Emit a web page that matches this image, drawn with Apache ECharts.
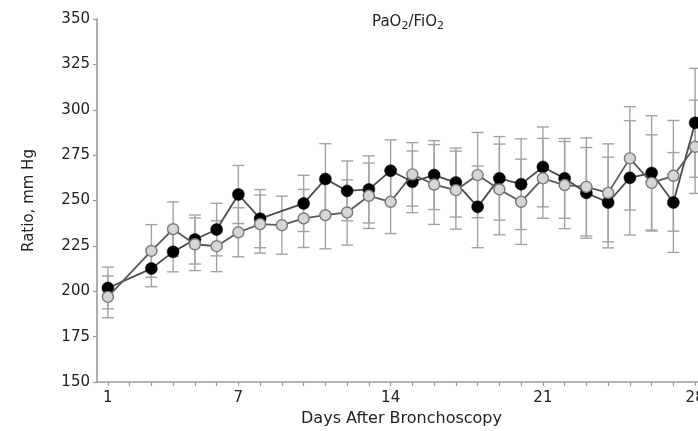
<!DOCTYPE html>
<html>
<head>
<meta charset="utf-8">
<script src="https://cdn.jsdelivr.net/npm/echarts@6/dist/echarts.min.js"></script>
<style>
  html, body { margin: 0; padding: 0; background: #ffffff; }
  #chart { width: 698px; height: 431px; }
</style>
</head>
<body>
<div id="chart"></div>
<script>
// Days after bronchoscopy (category axis, one slot per day)
const days = ['1','2','3','4','5','6','7','8','9','10','11','12','13','14',
              '15','16','17','18','19','20','21','22','23','24','25','26','27','28'];
const dayTickLabels = ['1', '7', '14', '21', '28'];

// Group A (filled black markers): mean PaO2/FiO2 and SD per day
const groupAMean = [201.8, null, 212.5, 221.7, 228.5, 234.0, 253.3, 240.0, null, 248.4,
                    261.8, 255.3, 256.1, 266.4, 260.3, 264.0, 259.9, 246.5, 262.2, 259.0,
                    268.5, 262.2, 254.2, 248.9, 262.5, 265.2, 248.9, 292.8];
const groupASd   = [11.5, null, 10.0, 11.0, 13.5, 14.5, 16.0, 16.0, null, 15.5,
                    19.5, 16.5, 18.5, 17.0, 17.0, 19.0, 19.0, 22.5, 23.0, 25.0,
                    22.0, 22.0, 25.0, 25.0, 31.5, 31.5, 27.5, 30.0];

// Group B (light grey markers): mean PaO2/FiO2 and SD per day
const groupBMean = [196.9, null, 222.2, 234.2, 225.9, 224.8, 232.5, 237.0, 236.4, 240.1,
                    241.9, 243.4, 252.6, 249.3, 264.4, 258.8, 255.7, 264.0, 256.1, 249.3,
                    262.2, 258.5, 257.5, 254.2, 273.2, 259.7, 263.6, 279.6];
const groupBSd   = [11.5, null, 14.5, 15.0, 14.5, 14.0, 13.5, 16.0, 16.0, 16.0,
                    18.5, 18.0, 18.0, 17.5, 17.5, 22.0, 21.5, 23.5, 25.0, 23.5,
                    22.0, 24.0, 27.0, 27.0, 28.5, 26.5, 30.5, 25.7];

const yTicks = { min: 150, max: 350, step: 25 };

function errorRows(mean, sd) {
  const rows = [];
  mean.forEach(function (m, i) {
    if (m != null && sd[i] != null) rows.push([i, m - sd[i], m + sd[i]]);
  });
  return rows;
}

function renderErrorBar(params, api) {
  const idx = api.value(0);
  const lo = api.coord([idx, api.value(1)]);
  const hi = api.coord([idx, api.value(2)]);
  const half = 6;
  const style = { stroke: '#a3a3a3', lineWidth: 1.4 };
  return {
    type: 'group',
    children: [
      { type: 'line', shape: { x1: lo[0], y1: lo[1], x2: hi[0], y2: hi[1] }, style: style },
      { type: 'line', shape: { x1: lo[0] - half, y1: lo[1], x2: lo[0] + half, y2: lo[1] }, style: style },
      { type: 'line', shape: { x1: hi[0] - half, y1: hi[1], x2: hi[0] + half, y2: hi[1] }, style: style }
    ]
  };
}

const font = 'DejaVu Sans';
const chart = echarts.init(document.getElementById('chart'), null, { renderer: 'canvas' });

chart.setOption({
  backgroundColor: '#ffffff',
  animation: false,
  title: {
    text: '{m|PaO}{s|2}{m|/FiO}{s|2}',
    left: 403,
    top: 7,
    textAlign: 'center',
    textStyle: {
      fontWeight: 'normal',
      rich: {
        m: { fontFamily: font, fontSize: 15, fontWeight: 'normal', color: '#222', lineHeight: 20 },
        s: { fontFamily: font, fontSize: 11, fontWeight: 'normal', color: '#222', verticalAlign: 'bottom', lineHeight: 10 }
      }
    }
  },
  grid: { left: 97, right: -8, top: 19, bottom: 49, containLabel: false, outerBoundsMode: 'none' },
  xAxis: {
    type: 'category',
    data: days,
    boundaryGap: true,
    name: 'Days After Bronchoscopy',
    nameLocation: 'middle',
    nameGap: 29,
    nameTextStyle: { fontFamily: font, fontSize: 16, color: '#222' },
    axisLine: { lineStyle: { color: '#9a9a9a', width: 1.6 } },
    axisTick: { show: true, alignWithLabel: true, interval: 0, length: 4, lineStyle: { color: '#9a9a9a', width: 1.2 } },
    axisLabel: {
      margin: 9,
      fontFamily: font,
      fontSize: 15,
      color: '#222',
      interval: function (i, v) { return dayTickLabels.indexOf(v) >= 0; }
    },
    splitLine: { show: false }
  },
  yAxis: {
    type: 'value',
    min: yTicks.min,
    max: yTicks.max,
    interval: yTicks.step,
    name: 'Ratio, mm Hg',
    nameLocation: 'middle',
    nameGap: 60,
    nameTextStyle: { fontFamily: font, fontSize: 15, color: '#222' },
    axisLine: { show: true, lineStyle: { color: '#9a9a9a', width: 1.6 } },
    axisTick: { show: true, length: 4, lineStyle: { color: '#9a9a9a', width: 1.2 } },
    axisLabel: { margin: 7, fontFamily: font, fontSize: 15, color: '#222' },
    splitLine: { show: false }
  },
  series: [
    {
      name: 'Group A SD',
      type: 'custom',
      renderItem: renderErrorBar,
      encode: { x: 0, y: [1, 2] },
      data: errorRows(groupAMean, groupASd),
      z: 1,
      silent: true
    },
    {
      name: 'Group B SD',
      type: 'custom',
      renderItem: renderErrorBar,
      encode: { x: 0, y: [1, 2] },
      data: errorRows(groupBMean, groupBSd),
      z: 1,
      silent: true
    },
    {
      name: 'Group A',
      type: 'line',
      data: groupAMean,
      connectNulls: true,
      symbol: 'circle',
      symbolSize: 12,
      lineStyle: { color: '#4d4d4d', width: 1.8 },
      itemStyle: { color: '#000000', borderColor: '#000000', borderWidth: 0.5 },
      z: 3
    },
    {
      name: 'Group B',
      type: 'line',
      data: groupBMean,
      connectNulls: true,
      symbol: 'circle',
      symbolSize: 11,
      lineStyle: { color: '#5a5a5a', width: 1.8 },
      itemStyle: { color: '#d6d6d6', borderColor: '#7a7a7a', borderWidth: 1.4 },
      z: 4
    }
  ]
});
</script>
</body>
</html>
